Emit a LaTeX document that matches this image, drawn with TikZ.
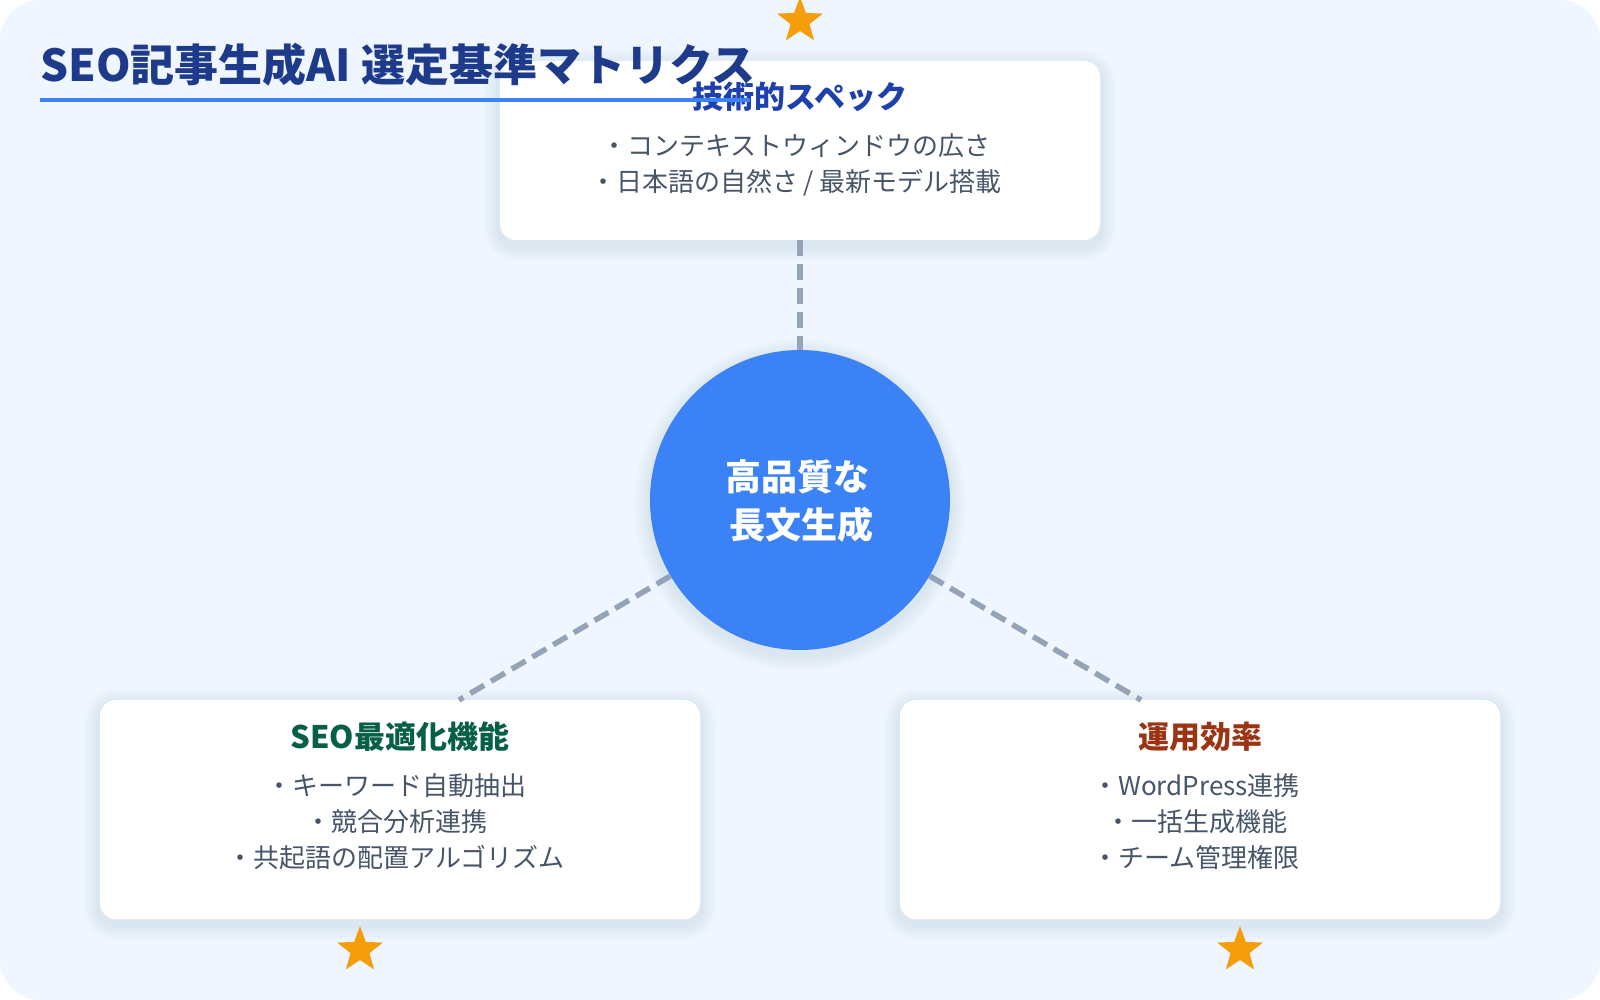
\documentclass[tikz,border=0pt]{standalone}
\usepackage{fontspec}
\setmainfont{Noto Sans CJK JP}
\usetikzlibrary{shapes.geometric}
\definecolor{bgc}{HTML}{EFF6FF}
\definecolor{titlec}{HTML}{1E3A8A}
\definecolor{ulc}{HTML}{3B82F6}
\definecolor{techc}{HTML}{1E40AF}
\definecolor{itemc}{HTML}{475569}
\definecolor{seoc}{HTML}{065F46}
\definecolor{opsc}{HTML}{9A3412}
\definecolor{dashc}{HTML}{94A3B8}
\definecolor{starc}{HTML}{F59E0B}
\definecolor{hubc}{HTML}{3B82F6}
\definecolor{shadc}{HTML}{1E3A5F}
\begin{document}
\begin{tikzpicture}[x=1pt,y=-1pt,
  softshadow/.style={
    preaction={draw=shadc, draw opacity=0.016, line width=32pt, transform canvas={yshift=-5pt}},
    preaction={draw=shadc, draw opacity=0.016, line width=26pt, transform canvas={yshift=-5pt}},
    preaction={draw=shadc, draw opacity=0.016, line width=20pt, transform canvas={yshift=-5pt}},
    preaction={draw=shadc, draw opacity=0.016, line width=14pt, transform canvas={yshift=-5pt}},
    preaction={draw=shadc, draw opacity=0.016, line width=8pt, transform canvas={yshift=-5pt}}},
  cardbox/.style={rectangle, rounded corners=16pt, fill=white, inner sep=0pt,
    minimum width=600pt, softshadow},
  hubnode/.style={circle, fill=hubc, minimum size=300pt, inner sep=0pt, softshadow},
  starnode/.style={star, star points=5, star point ratio=2.4, fill=starc, draw=none,
    minimum size=48pt, inner sep=0pt},
  dashline/.style={draw=dashc, line width=5.5pt, dash pattern=on 16pt off 8pt},
  cardtitle/.style={inner sep=0pt, anchor=center, text height=25.7pt, text depth=2.2pt,
    font=\fontsize{31}{36}\selectfont\bfseries},
  itemtext/.style={inner sep=0pt, anchor=center, text height=21.6pt, text depth=1.8pt,
    text=itemc, font=\fontsize{26}{32}\selectfont},
  hubtext/.style={inner sep=0pt, anchor=center, text height=29.9pt, text depth=2.5pt,
    text=white, font=\fontsize{36}{44}\selectfont\bfseries},
]
\useasboundingbox (0,0) rectangle (1600,1000);
\fill[white] (0,0) rectangle (1600,1000);
\fill[bgc, rounded corners=40pt] (0,0) rectangle (1600,1000);

% hub and cards
\node[hubnode] (hub) at (800,500) {};
\node[cardbox, minimum height=179pt] (tech) at (800,150.5) {};
\node[cardbox, minimum height=219pt] (seo) at (400,809.5) {};
\node[cardbox, minimum height=219pt] (ops) at (1200,809.5) {};

% connectors
\coordinate (lend) at (459,700);
\coordinate (rend) at (1141,700);
\draw[dashline] (tech.south) -- (hub.north);
\draw[dashline] (hub) -- (lend);
\draw[dashline] (hub) -- (rend);

% stars
\node[starnode] (star1) at (800,21) {};
\node[starnode] (star2) at (360,950) {};
\node[starnode] (star3) at (1240,950) {};

% hub text
\node[hubtext] (hubt1) at (797,477) {高品質な};
\node[hubtext] (hubt2) at (801,525) {長文生成};

% technical card
\node[cardtitle, text=techc] (techt) at (800,97) {技術的スペック};
\node[itemtext] (tech1) at (796,146) {・コンテキストウィンドウの広さ};
\node[itemtext] (tech2) at (796,182) {・日本語の自然さ / 最新モデル搭載};

% seo card
\node[cardtitle, text=seoc] (seot) at (400,737) {SEO最適化機能};
\node[itemtext] (seo1) at (396,786) {・キーワード自動抽出};
\node[itemtext] (seo2) at (396,822) {・競合分析連携};
\node[itemtext] (seo3) at (396,858) {・共起語の配置アルゴリズム};

% ops card
\node[cardtitle, text=opsc] (opst) at (1200,737) {運用効率};
\node[itemtext] (ops1) at (1196,786) {・WordPress連携};
\node[itemtext] (ops2) at (1196,822) {・一括生成機能};
\node[itemtext] (ops3) at (1196,858) {・チーム管理権限};

% title
\node[inner sep=0pt, anchor=base west, text=titlec, font=\fontsize{44}{50}\selectfont\bfseries] (title) at (40,82) {SEO記事生成AI 選定基準マトリクス};
\draw[ulc, line width=4pt] (40,100) -- (750,100);
\end{tikzpicture}
\end{document}
